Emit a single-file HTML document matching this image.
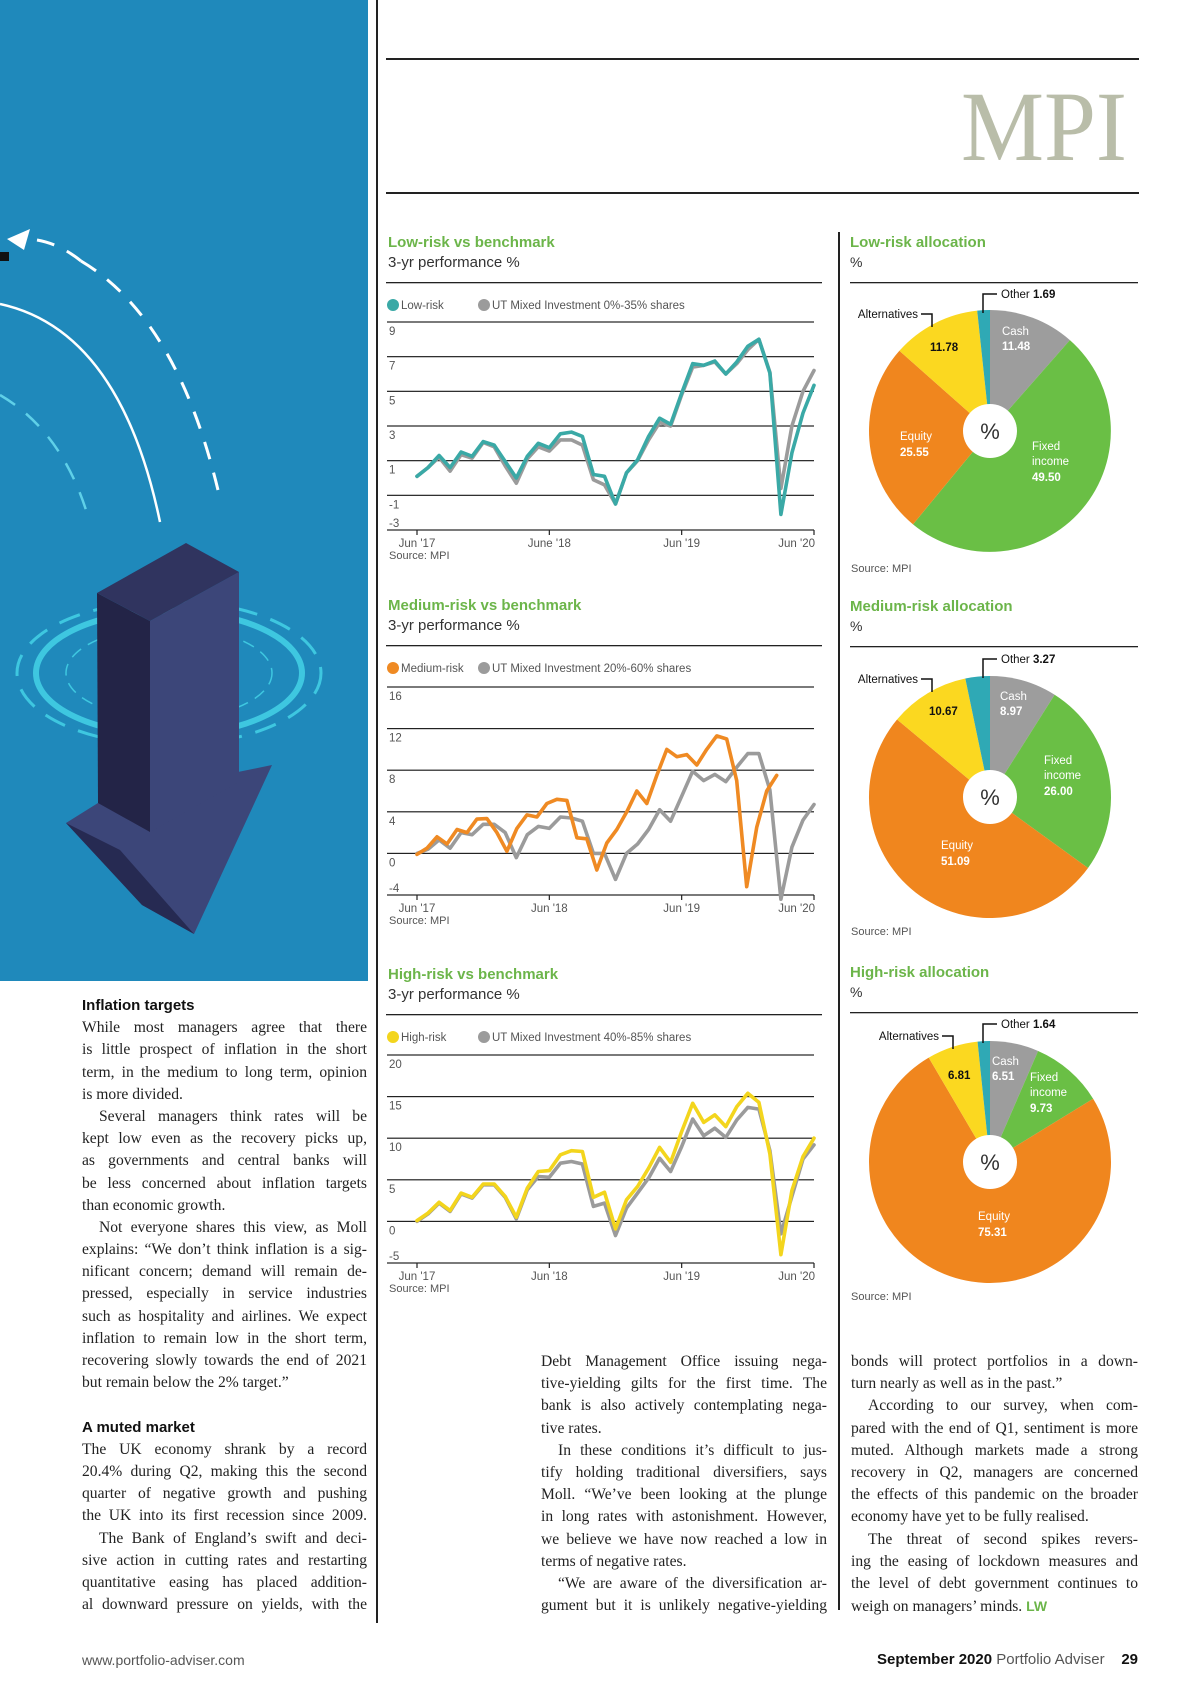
<!DOCTYPE html>
<html><head><meta charset="utf-8">
<style>
html,body{margin:0;padding:0;background:#fff;}
body{width:1200px;height:1698px;position:relative;overflow:hidden;font-family:"Liberation Sans",sans-serif;}
.abs{position:absolute;}
.col{position:absolute;font-family:"Liberation Serif",serif;font-size:15.6px;color:#222;line-height:22.2px;}
.col div{height:22.2px;overflow:hidden;}
.j{text-align:justify;text-align-last:justify;}
.l{text-align:left;}
.in{text-indent:17px;}
.h{font-family:"Liberation Sans",sans-serif;font-weight:bold;font-size:15px;color:#111;}
svg text{font-family:"Liberation Sans",sans-serif;}
</style></head>
<body>
<svg class="abs" style="left:0;top:0" width="368" height="981" viewBox="0 0 368 981">
  <rect x="0" y="0" width="368" height="981" fill="#1f89bb"/>
  <path d="M81,261 Q180,320 221,503" fill="none" stroke="#fff" stroke-width="3" stroke-dasharray="18,14"/>
  <path d="M37,240 Q60,244 81,261" fill="none" stroke="#fff" stroke-width="3" stroke-dasharray="18,14"/>
  <polygon points="7,239 30,229 24,250" fill="#fff"/>
  <rect x="0" y="252" width="9" height="9" fill="#111"/>
  <path d="M0,304 Q120,330 160,522" fill="none" stroke="#fff" stroke-width="2.5"/>
  <path d="M0,395 Q60,430 86,510" fill="none" stroke="#5fd0e8" stroke-width="2.5" stroke-dasharray="18,14"/>
  <ellipse cx="169" cy="673" rx="152" ry="72" fill="none" stroke="#3ec7e0" stroke-width="3" stroke-dasharray="22,14"/>
  <ellipse cx="169" cy="673" rx="133" ry="62" fill="none" stroke="#3ec7e0" stroke-width="6"/>
  <ellipse cx="169" cy="673" rx="103" ry="46" fill="none" stroke="#3ec7e0" stroke-width="1.5" stroke-dasharray="12,8"/>
  <polygon points="66,823 98,803 150,790 272,765 194,934 142,905" fill="#3c4679"/>
  <polygon points="66,823 142,905 194,934 120,850" fill="#262a52"/>
  <polygon points="97,593 150,621 150,832 98,803" fill="#232447"/>
  <polygon points="150,621 239,572 239,782 150,832" fill="#3c4679"/>
  <polygon points="97,593 186,543 239,572 150,621" fill="#30345f"/>
</svg>

<div class="abs" style="left:376px;top:0;width:1.5px;height:1623px;background:#222"></div>
<div class="abs" style="left:838px;top:232px;width:1.5px;height:1378px;background:#222"></div>

<div class="abs" style="left:386px;top:58px;width:753px;height:1.5px;background:#222"></div>
<div class="abs" style="left:386px;top:192px;width:753px;height:1.5px;background:#222"></div>
<svg class="abs" style="left:950px;top:70px" width="190" height="100">
  <text x="11" y="90" font-size="100" fill="#b9bda9" textLength="166" lengthAdjust="spacingAndGlyphs" style="font-family:'Liberation Serif',serif">MPI</text>
</svg>

<svg id="charts" class="abs" style="left:0;top:0" width="1200" height="1698"></svg>

<div class="col" style="left:82px;top:995px;width:285px;">
  <div class="h l">Inflation targets</div>
  <div class="j">While most managers agree that there</div>
  <div class="j">is little prospect of inflation in the short</div>
  <div class="j">term, in the medium to long term, opinion</div>
  <div class="l">is more divided.</div>
  <div class="j in">Several managers think rates will be</div>
  <div class="j">kept low even as the recovery picks up,</div>
  <div class="j">as governments and central banks will</div>
  <div class="j">be less concerned about inflation targets</div>
  <div class="l">than economic growth.</div>
  <div class="j in">Not everyone shares this view, as Moll</div>
  <div class="j">explains: “We don’t think inflation is a sig-</div>
  <div class="j">nificant concern; demand will remain de-</div>
  <div class="j">pressed, especially in service industries</div>
  <div class="j">such as hospitality and airlines. We expect</div>
  <div class="j">inflation to remain low in the short term,</div>
  <div class="j">recovering slowly towards the end of 2021</div>
  <div class="l">but remain below the 2% target.”</div>
  <div></div>
  <div class="h l">A muted market</div>
  <div class="j">The UK economy shrank by a record</div>
  <div class="j">20.4% during Q2, making this the second</div>
  <div class="j">quarter of negative growth and pushing</div>
  <div class="j">the UK into its first recession since 2009.</div>
  <div class="j in">The Bank of England’s swift and deci-</div>
  <div class="j">sive action in cutting rates and restarting</div>
  <div class="j">quantitative easing has placed addition-</div>
  <div class="j">al downward pressure on yields, with the</div>
</div>

<div class="col" style="left:541px;top:1351px;width:286px;">
  <div class="j">Debt Management Office issuing nega-</div>
  <div class="j">tive-yielding gilts for the first time. The</div>
  <div class="j">bank is also actively contemplating nega-</div>
  <div class="l">tive rates.</div>
  <div class="j in">In these conditions it’s difficult to jus-</div>
  <div class="j">tify holding traditional diversifiers, says</div>
  <div class="j">Moll. “We’ve been looking at the plunge</div>
  <div class="j">in long rates with astonishment. However,</div>
  <div class="j">we believe we have now reached a low in</div>
  <div class="l">terms of negative rates.</div>
  <div class="j in">“We are aware of the diversification ar-</div>
  <div class="j">gument but it is unlikely negative-yielding</div>
</div>

<div class="col" style="left:851px;top:1351px;width:287px;">
  <div class="j">bonds will protect portfolios in a down-</div>
  <div class="l">turn nearly as well as in the past.”</div>
  <div class="j in">According to our survey, when com-</div>
  <div class="j">pared with the end of Q1, sentiment is more</div>
  <div class="j">muted. Although markets made a strong</div>
  <div class="j">recovery in Q2, managers are concerned</div>
  <div class="j">the effects of this pandemic on the broader</div>
  <div class="l">economy have yet to be fully realised.</div>
  <div class="j in">The threat of second spikes revers-</div>
  <div class="j">ing the easing of lockdown measures and</div>
  <div class="j">the level of debt government continues to</div>
  <div class="l">weigh on managers’ minds. <b style="font-family:'Liberation Sans',sans-serif;color:#6cb54a;font-size:14px">LW</b></div>
</div>

<div class="abs" style="left:82px;top:1652px;font-size:14px;color:#555;">www.portfolio-adviser.com</div>
<div class="abs" style="right:62px;top:1651px;font-size:15px;color:#111;white-space:nowrap;"><b>September 2020</b> <span style="color:#555">Portfolio Adviser</span>&nbsp;&nbsp;&nbsp; <b>29</b></div>

<script>
// ---- line chart data ----
const xTickLabelsLow = ["Jun '17","June '18","Jun '19","Jun '20"];
const xTickLabels = ["Jun '17","Jun '18","Jun '19","Jun '20"];
const xTickIdx = [0,12,24,36];

const lowRisk = [0.1,0.6,1.3,0.6,1.5,1.25,2.1,1.9,0.95,0.0,1.25,2.0,1.75,2.55,2.65,2.4,0.2,0.1,-1.5,0.3,1.05,2.4,3.45,3.1,4.9,6.6,6.5,6.75,6.0,6.7,7.6,8.0,6.05,-2.1,1.45,3.75,5.35];
const lowBench = [0.1,0.6,1.2,0.4,1.35,1.15,2.05,1.8,0.7,-0.3,1.1,1.8,1.55,2.2,2.2,1.9,-0.1,-0.4,-1.5,0.3,1.0,2.2,3.2,3.0,4.8,6.4,6.5,6.7,6.0,6.6,7.4,8.0,6.1,-0.6,3.0,5.0,6.2];
const lowTicks = [9,7,5,3,1,-1,-3];

const medRisk = [-0.1,0.5,1.6,0.9,2.3,2.0,3.3,3.35,2.0,0.2,2.4,3.7,3.5,4.8,5.2,5.1,1.5,1.4,-1.6,1.0,2.3,4.0,6.0,4.8,7.5,10.0,9.3,9.5,8.5,10.0,11.3,11.0,7.0,-3.2,2.5,6.0,7.5];
const medBench = [0.0,0.4,1.3,0.5,2.0,1.8,2.8,2.8,2.0,-0.4,1.8,2.6,2.4,3.5,3.4,3.1,0.0,0.0,-2.5,0.0,0.9,2.3,4.2,3.1,5.5,7.9,7.0,7.6,6.9,8.3,9.6,9.6,6.1,-4.4,0.6,3.2,4.7];
const medTicks = [16,12,8,4,0,-4];

const highRisk = [0.1,1.0,2.3,1.3,3.4,2.9,4.5,4.5,3.0,0.5,4.0,6.0,6.1,8.0,8.5,8.4,2.9,3.5,-0.9,2.6,4.2,6.4,8.9,7.1,10.8,14.2,11.9,12.8,11.4,13.8,15.4,14.3,8.1,-4.0,3.7,7.8,10.0];
const highBench = [0.0,0.9,2.2,1.2,3.3,2.8,4.4,4.4,2.9,0.3,3.8,5.4,5.3,7.0,7.2,6.9,1.8,2.2,-1.7,1.6,3.4,5.2,7.6,6.0,9.0,12.3,10.3,11.2,10.1,12.2,13.7,13.5,8.5,-1.5,3.0,7.5,9.2];
const highTicks = [20,15,10,5,0,-5];

// ---- pie data (clockwise from 12 o'clock) ----
const pieCategories = ["Cash","Fixed income","Equity","Alternatives","Other"];
const lowAlloc = [11.48,49.50,25.55,11.78,1.69];
const medAlloc = [8.97,26.00,51.09,10.67,3.27];
const highAlloc = [6.51,9.73,75.31,6.81,1.64];

const NS = "http://www.w3.org/2000/svg";
const svg = document.getElementById("charts");
function mk(tag, attrs, parent, txt){
  const e = document.createElementNS(NS, tag);
  for (const k in attrs) e.setAttribute(k, attrs[k]);
  if (txt !== undefined) e.textContent = txt;
  (parent||svg).appendChild(e);
  return e;
}

function lineChart(cfg){
  const g = mk("g", {});
  
  
  const x0 = 417, x1 = 814;
  const xs = i => x0 + i * (x1 - x0) / 36;
  const vMax = cfg.ticks[0], vMin = cfg.ticks[cfg.ticks.length-1];
  const ys = v => cfg.yTop + (vMax - v) * (cfg.yBot - cfg.yTop) / (vMax - vMin);
  const top = cfg.top;
  const t1 = mk("text", {x:388, y:top, "font-size":15, "font-weight":"bold", fill:"#6cb54a"}, g, cfg.title);
  
  
  const t2 = mk("text", {x:388, y:top+20, "font-size":15, fill:"#333"}, g, "3-yr performance %");
  
  
  mk("rect", {x:386, y:top+35, width:436, height:1.3, fill:"#222"}, g);
  const lg1 = mk("circle", {cx:393, cy:top+58, r:6, fill:cfg.color}, g);
  
  
  const lt1 = mk("text", {x:401, y:top+62, "font-size":11.5, fill:"#555"}, g, cfg.legendA);
  
  
  const lg2 = mk("circle", {cx:cfg.legendBx, cy:top+58, r:6, fill:"#9b9b9b"}, g);
  
  
  const lt2 = mk("text", {x:cfg.legendBx+8, y:top+62, "font-size":11.5, fill:"#555"}, g, cfg.legendB);
  
  
  cfg.ticks.forEach((t, k) => {
    const y = ys(t);
    const last = k === cfg.ticks.length - 1;
    const gl = mk("rect", {x:387, y:y-0.6, width:427, height:1.2, fill:"#222"}, g);
    
    
    const tl = mk("text", {x:389, y: last ? y-3 : y+13, "font-size":11.5, fill:"#555"}, g, String(t));
    
    
  });
  xTickIdx.forEach((i, k) => {
    const x = xs(i), yb = ys(vMin);
    mk("rect", {x:x-0.6, y:yb, width:1.2, height:5, fill:"#222"}, g);
    const lbl = mk("text", {x: k===3 ? x+1 : x, y:yb+17, "font-size":11.5, fill:"#555", "text-anchor": k===3 ? "end" : "middle"}, g, cfg.xLabels[k]);
    
    
  });
  const src = mk("text", {x:389, y:ys(vMin)+29, "font-size":11, fill:"#555"}, g, "Source: MPI");
  
  
  const pathOf = (arr, step) => arr.map((v,i)=> (i?"L":"M") + xs(i*step).toFixed(1) + "," + ys(v).toFixed(1)).join(" ");
  const pb = mk("path", {d:pathOf(cfg.b, 1), fill:"none", stroke:"#9b9b9b", "stroke-width":3.6, "stroke-linejoin":"round", "stroke-linecap":"round"}, g);
  
  
  const pa = mk("path", {d:pathOf(cfg.a, cfg.stepA || 1), fill:"none", stroke:cfg.color, "stroke-width":3.6, "stroke-linejoin":"round", "stroke-linecap":"round"}, g);
  
  
}

lineChart({name:"low-risk-line-chart", title:"Low-risk vs benchmark", top:247, yTop:322, yBot:530, ticks:lowTicks, a:lowRisk, b:lowBench, color:"#3aa9a6", legendA:"Low-risk", legendB:"UT Mixed Investment 0%-35% shares", legendBx:484, xLabels:xTickLabelsLow});
lineChart({name:"medium-risk-line-chart", title:"Medium-risk vs benchmark", top:610, yTop:687, yBot:895, ticks:medTicks, a:medRisk, b:medBench, color:"#ef8a23", legendA:"Medium-risk", legendB:"UT Mixed Investment 20%-60% shares", legendBx:484, xLabels:xTickLabels, stepA:0.906});
lineChart({name:"high-risk-line-chart", title:"High-risk vs benchmark", top:979, yTop:1055, yBot:1263, ticks:highTicks, a:highRisk, b:highBench, color:"#f3d51d", legendA:"High-risk", legendB:"UT Mixed Investment 40%-85% shares", legendBx:484, xLabels:xTickLabels});

const pieColors = ["#9d9d9d","#6abf45","#f0861e","#fbd820","#2fa9b5"];
function pieChart(cfg){
  const g = mk("g", {});
  
  
  const top = cfg.top;
  const t1 = mk("text", {x:850, y:top, "font-size":15, "font-weight":"bold", fill:"#6cb54a"}, g, cfg.title);
  
  
  mk("text", {x:850, y:top+20, "font-size":14, fill:"#333"}, g, "%");
  mk("rect", {x:850, y:top+35, width:288, height:1.3, fill:"#222"}, g);
  const cx = 990, cy = cfg.cy, r = 121;
  const total = cfg.vals.reduce((a,b)=>a+b,0);
  let acc = 0;
  cfg.vals.forEach((v,i)=>{
    const a0 = acc/total*2*Math.PI - Math.PI/2; acc += v;
    const a1 = acc/total*2*Math.PI - Math.PI/2;
    const large = (a1-a0) > Math.PI ? 1 : 0;
    const d = `M${cx},${cy} L${(cx+r*Math.cos(a0)).toFixed(2)},${(cy+r*Math.sin(a0)).toFixed(2)} A${r},${r} 0 ${large} 1 ${(cx+r*Math.cos(a1)).toFixed(2)},${(cy+r*Math.sin(a1)).toFixed(2)} Z`;
    const s = mk("path", {d:d, fill:pieColors[i]}, g);
    
    
  });
  mk("circle", {cx:cx, cy:cy, r:27, fill:"#fff"}, g);
  mk("text", {x:cx, y:cy+8, "font-size":22, fill:"#333", "text-anchor":"middle"}, g, "%");
  const L = cfg.labels;
  const addT = (x,y,txt,fill,bold,size) => mk("text", {x:x, y:y, "font-size":size||11.5, fill:fill, "font-weight":bold?"bold":"normal"}, g, txt);
  addT(L.cash[0], L.cash[1], "Cash", "#fff");
  addT(L.cash[0], L.cash[1]+15, cfg.vals[0].toFixed(2), "#fff", true);
  addT(L.fixed[0], L.fixed[1], "Fixed", "#fff");
  addT(L.fixed[0], L.fixed[1]+15, "income", "#fff");
  addT(L.fixed[0], L.fixed[1]+31, cfg.vals[1].toFixed(2), "#fff", true);
  addT(L.eq[0], L.eq[1], "Equity", "#fff");
  addT(L.eq[0], L.eq[1]+16, cfg.vals[2].toFixed(2), "#fff", true);
  addT(L.alt[0], L.alt[1], cfg.vals[3].toFixed(2), "#111", true);
  const oy = L.other;
  mk("path", {d:`M983,${oy+19} L983,${oy} L997,${oy}`, fill:"none", stroke:"#111", "stroke-width":1.5}, g);
  const ot = mk("text", {x:1001, y:oy+4, "font-size":11.5, fill:"#111"}, g);
  ot.appendChild(document.createTextNode("Other "));
  mk("tspan", {"font-weight":"bold"}, ot, cfg.vals[4].toFixed(2));
  const ax = L.altLead[0], ay = L.altLead[1];
  mk("text", {x:ax-3, y:ay+4, "font-size":11.5, fill:"#111", "text-anchor":"end"}, g, "Alternatives");
  mk("path", {d:`M${ax},${ay} L${ax+11},${ay} L${ax+11},${ay+13}`, fill:"none", stroke:"#111", "stroke-width":1.5}, g);
  const src = mk("text", {x:851, y:cfg.src, "font-size":11, fill:"#555"}, g, "Source: MPI");
  
  
}

pieChart({name:"low-risk-allocation-pie", title:"Low-risk allocation", top:247, cy:431, vals:lowAlloc, src:572,
  labels:{cash:[1002,335], fixed:[1032,450], eq:[900,440], alt:[930,351], other:294, altLead:[921,314]}});
pieChart({name:"medium-risk-allocation-pie", title:"Medium-risk allocation", top:611, cy:797, vals:medAlloc, src:935,
  labels:{cash:[1000,700], fixed:[1044,764], eq:[941,849], alt:[929,715], other:659, altLead:[921,679]}});
pieChart({name:"high-risk-allocation-pie", title:"High-risk allocation", top:977, cy:1162, vals:highAlloc, src:1300,
  labels:{cash:[992,1065], fixed:[1030,1081], eq:[978,1220], alt:[948,1079], other:1024, altLead:[942,1036]}});
</script>
</body></html>
